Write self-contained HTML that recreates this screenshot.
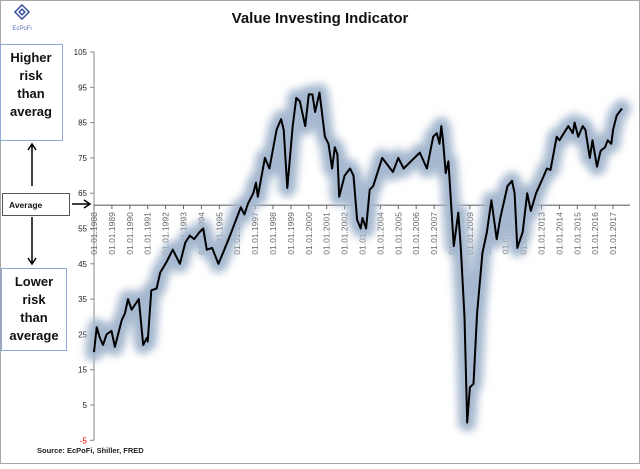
<!DOCTYPE html>
<html><head><meta charset="utf-8"><style>
html,body{margin:0;padding:0;background:#fff;}
body{width:640px;height:464px;overflow:hidden;font-family:"Liberation Sans",sans-serif;}
</style></head><body>
<svg id="chart" width="640" height="464" xmlns="http://www.w3.org/2000/svg" font-family="Liberation Sans, sans-serif">
<defs><filter id="glow" x="-10%" y="-10%" width="120%" height="120%"><feGaussianBlur stdDeviation="4"/></filter></defs>
<rect x="0.5" y="0.5" width="639" height="463" fill="#fff" stroke="#a6a6a6"/>
<g>
<g transform="translate(22,12) rotate(45)" fill="none" stroke="#3a55a0" stroke-width="1.5"><rect x="-5" y="-5" width="10" height="10"/><rect x="-2" y="-2" width="4" height="4"/></g>
<text x="22" y="30" font-size="6" fill="#5a73b8" text-anchor="middle">EcPoFi</text>
</g>
<text x="320" y="23" font-size="15" font-weight="bold" text-anchor="middle" fill="#111">Value Investing Indicator</text>
<g>
<rect x="0.5" y="44.5" width="62" height="96" fill="#fff" stroke="#8eaadb"/>
<text font-size="13" font-weight="bold" text-anchor="middle" fill="#111"><tspan x="31" y="62">Higher</tspan><tspan x="31" y="80">risk</tspan><tspan x="31" y="98">than</tspan><tspan x="31" y="116">averag</tspan></text>
</g>
<g>
<rect x="1.5" y="268.5" width="65" height="82" fill="#fff" stroke="#8eaadb"/>
<text font-size="13" font-weight="bold" text-anchor="middle" fill="#111"><tspan x="34" y="286">Lower</tspan><tspan x="34" y="304">risk</tspan><tspan x="34" y="322">than</tspan><tspan x="34" y="340">average</tspan></text>
</g>
<g>
<rect x="2.5" y="193.5" width="67" height="22" fill="#fff" stroke="#555"/>
<text x="9" y="208" font-size="8.5" font-weight="bold" fill="#111">Average</text>
</g>
<g stroke="#000" stroke-width="1.5" fill="none">
<line x1="32" y1="186" x2="32" y2="145"/><polyline points="28,150 32,144 36,150"/>
<line x1="32" y1="217" x2="32" y2="263"/><polyline points="28,258 32,264 36,258"/>
<line x1="72" y1="204" x2="89" y2="204"/><polyline points="84,200 90,204 84,208"/>
</g>
<g id="axes"></g>
<g id="series"></g>
<text x="37" y="453" font-size="7.5" font-weight="bold" fill="#222">Source: EcPoFi,  Shiller, FRED</text>
</svg>
<script>
const years = [1988.0,1988.15,1988.33,1988.5,1988.7,1988.98,1989.17,1989.55,1989.73,1989.9,1990.1,1990.5,1990.75,1990.95,1991.0,1991.2,1991.5,1991.7,1992.05,1992.4,1992.8,1993.1,1993.35,1993.6,1993.9,1994.1,1994.3,1994.6,1994.95,1995.2,1995.6,1996.2,1996.4,1996.6,1996.9,1997.05,1997.15,1997.55,1997.8,1998.2,1998.45,1998.6,1998.8,1999.1,1999.3,1999.5,1999.8,2000.0,2000.2,2000.35,2000.6,2000.9,2001.1,2001.3,2001.45,2001.6,2001.7,2002.0,2002.3,2002.5,2002.7,2002.9,2003.0,2003.2,2003.4,2003.6,2004.1,2004.4,2004.7,2005.0,2005.3,2005.7,2006.2,2006.6,2006.95,2007.15,2007.3,2007.4,2007.5,2007.65,2007.8,2008.0,2008.1,2008.35,2008.5,2008.7,2008.85,2009.0,2009.2,2009.4,2009.7,2009.95,2010.2,2010.5,2010.7,2011.1,2011.35,2011.5,2011.65,2011.95,2012.2,2012.4,2012.7,2013.1,2013.3,2013.5,2013.85,2014.0,2014.5,2014.75,2014.85,2015.05,2015.3,2015.45,2015.7,2015.85,2016.1,2016.3,2016.55,2016.7,2016.9,2017.0,2017.2,2017.5];
const values = [20,27,24,22,25,26,21.5,29,31,35,32,35,22,24,23,37.5,38,42.5,45.5,49,45,51,53,52,54,55,49,49.5,45,48,53,61,59,62,65,68,64,75,72,83,86,83,66.5,84,92,91,84,93,93,88,93.5,81,79,72,78,76,64,70,72,70,57.5,55,58,55,66,67,75,73,71,75,72,74,76.5,72,81,82,79,84,80,70.7,74,58,50,59.5,49,30,0,10,11,31,48,54,63,52,58,67,68.5,65,49.5,54,65,60,65,69.6,72,71.6,81,80,84,82,85,81,84,83,75,80,72.5,77,78,80,79,83,87,89];
const yTicks = [105,95,85,75,65,55,45,35,25,15,5,-5];
const xTickYears = [1988,1989,1990,1991,1992,1993,1994,1995,1996,1997,1998,1999,2000,2001,2002,2003,2004,2005,2006,2007,2008,2009,2010,2011,2012,2013,2014,2015,2016,2017];
const averageValue = 61.6;

const NS = "http://www.w3.org/2000/svg";
function yS(v){return 52 + (105 - v) * 3.53;}
function xS(yr){return 94 + (yr - 1988) * 17.9;}
function mk(tag, attrs, parent){const e=document.createElementNS(NS,tag);for(const k in attrs)e.setAttribute(k,attrs[k]);parent.appendChild(e);return e;}

const axes = document.getElementById('axes');
const yAxis = mk('line',{x1:94,y1:yS(105),x2:94,y2:yS(-5),stroke:'#888','stroke-width':1},axes);


yTicks.forEach(v=>{
  const t = mk('line',{x1:90,y1:yS(v),x2:94,y2:yS(v),stroke:'#888'},axes);
  
  
  const l = mk('text',{x:87,y:yS(v)+3,'font-size':8,'text-anchor':'end',fill:v<0?'#e00':'#222'},axes);
  l.textContent = v;
  
  
});
const avg = mk('line',{x1:94,y1:yS(averageValue),x2:630,y2:yS(averageValue),stroke:'#666','stroke-width':1.2},axes);


xTickYears.forEach(yr=>{
  const x = xS(yr), y0 = yS(averageValue);
  const t = mk('line',{x1:x,y1:y0,x2:x,y2:y0+4,stroke:'#666'},axes);
  
  
  const l = mk('text',{x:0,y:0,'font-size':8.5,'text-anchor':'end',fill:'#666',transform:`translate(${x+3},${y0+7}) rotate(-90)`},axes);
  l.textContent = '01.01.' + yr;
  
  
});

const ser = document.getElementById('series');
const d = years.map((yr,i)=>(i?'L':'M')+xS(yr).toFixed(1)+','+yS(values[i]).toFixed(1)).join(' ');
const glow = mk('path',{d:d,fill:'none',stroke:'#a6b8cf','stroke-width':18,'stroke-linejoin':'round','stroke-linecap':'round',opacity:1,filter:'url(#glow)'},ser);


const line = mk('path',{d:d,fill:'none',stroke:'#000','stroke-width':2,'stroke-linejoin':'round'},ser);


</script>
</body></html>
